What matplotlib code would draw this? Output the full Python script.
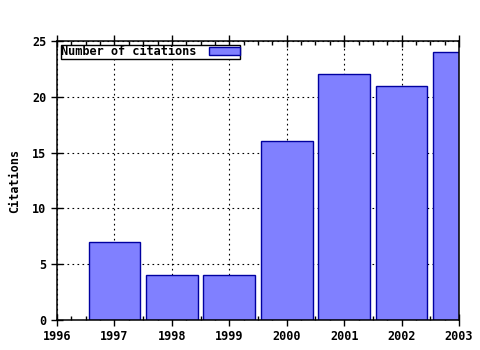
import matplotlib
matplotlib.use('Agg')
import matplotlib.pyplot as plt
from matplotlib.ticker import MultipleLocator

years = [1997, 1998, 1999, 2000, 2001, 2002, 2003]
citations = [7, 4, 4, 16, 22, 21, 24]

plt.rcParams['font.family'] = 'DejaVu Sans Mono'
plt.rcParams['font.weight'] = 'bold'
plt.rcParams['font.size'] = 8

fig = plt.figure(figsize=(4.8, 3.5), dpi=100)
ax = fig.add_axes([57 / 480, 30 / 350, 402 / 480, 279 / 350])

ax.bar(years, citations, width=0.9, color='#8080ff', edgecolor='#0000a0',
       linewidth=1, label='Number of citations', zorder=2)

ax.set_xlim(1996, 2003)
ax.set_ylim(0, 25)
ax.xaxis.set_major_locator(MultipleLocator(1))
ax.xaxis.set_minor_locator(MultipleLocator(0.25))
ax.yaxis.set_major_locator(MultipleLocator(5))
ax.tick_params(which='major', direction='inout', length=8, width=1,
               top=True, right=False, labelsize=8.5, colors='black')
ax.tick_params(which='minor', direction='in', length=3, width=1, top=True)
ax.tick_params(axis='y', which='minor', left=False, right=False)

ax.grid(True, which='major', color='black', linestyle=(0, (1.5, 3)), linewidth=0.8, zorder=1)
ax.set_axisbelow(True)
for s in ax.spines.values():
    s.set_linewidth(1.1)

ax.set_ylabel('Citations', fontsize=8.5, fontweight='bold', labelpad=8)

leg = ax.legend(loc='upper left', markerfirst=False, fancybox=False, framealpha=1,
                edgecolor='black', borderpad=0.05, handlelength=2.6, handleheight=0.55,
                borderaxespad=0.3, handletextpad=1.0, prop={'size': 8.6, 'weight': 'bold'})
leg.get_frame().set_linewidth(1)

fig.savefig('out.png', dpi=100)
